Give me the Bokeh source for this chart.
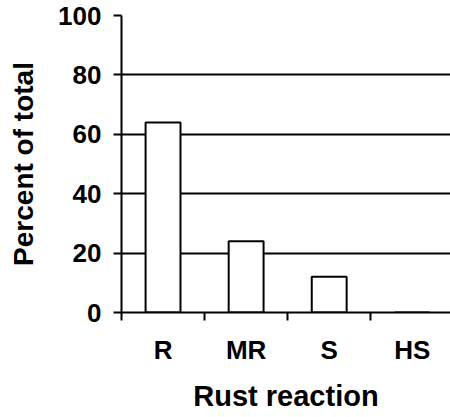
from bokeh.plotting import figure
from bokeh.models import Range1d, FixedTicker
from bokeh.embed import file_html
from bokeh.resources import INLINE

categories = ["R", "MR", "S", "HS"]
percent = [64, 24, 12, 0]
y_ticks = [0, 20, 40, 60, 80, 100]

x_centers = [i + 0.5 for i in range(len(categories))]
x_bounds = list(range(len(categories)))

FONT = "Liberation Sans"

p = figure(width=450, height=417, output_backend="svg", toolbar_location=None,
           x_range=Range1d(0, 3.96), y_range=Range1d(0, 100),
           min_border_left=121, min_border_right=0, min_border_top=15, min_border_bottom=105)
p.outline_line_color = None
p.background_fill_color = "white"
p.border_fill_color = "white"

p.vbar(x=x_centers, top=percent, width=0.42, fill_color="white",
       line_color="black", line_width=2)

# y axis
p.yaxis.ticker = FixedTicker(ticks=y_ticks)
p.yaxis.minor_tick_line_color = None
p.yaxis.major_tick_in = 0
p.yaxis.major_tick_out = 8
p.yaxis.major_tick_line_width = 2
p.yaxis.axis_line_width = 2
p.yaxis.major_label_standoff = 12
p.yaxis.major_label_text_font = FONT
p.yaxis.major_label_text_font_style = "bold"
p.yaxis.major_label_text_font_size = "26px"
p.yaxis.major_label_text_color = "black"
p.yaxis.axis_label = "Percent of total"
p.yaxis.axis_label_text_font = FONT
p.yaxis.axis_label_text_font_style = "bold"
p.yaxis.axis_label_text_font_size = "28px"
p.yaxis.axis_label_text_color = "black"
p.yaxis.axis_label_standoff = 16

# x axis
p.xaxis.ticker = FixedTicker(ticks=x_centers, minor_ticks=x_bounds)
p.xaxis.major_label_overrides = {c: lab for c, lab in zip(x_centers, categories)}
p.xaxis.major_tick_line_color = None
p.xaxis.major_tick_in = 0
p.xaxis.major_tick_out = 0
p.xaxis.minor_tick_in = 0
p.xaxis.minor_tick_out = 8
p.xaxis.minor_tick_line_width = 2
p.xaxis.minor_tick_line_color = "black"
p.xaxis.axis_line_width = 2
p.xaxis.major_label_standoff = 14
p.xaxis.major_label_text_font = FONT
p.xaxis.major_label_text_font_style = "bold"
p.xaxis.major_label_text_font_size = "26px"
p.xaxis.major_label_text_color = "black"
p.xaxis.axis_label = "Rust reaction"
p.xaxis.axis_label_text_font = FONT
p.xaxis.axis_label_text_font_style = "bold"
p.xaxis.axis_label_text_font_size = "29px"
p.xaxis.axis_label_text_color = "black"
p.xaxis.axis_label_standoff = 12

p.xgrid.grid_line_color = None
p.ygrid.ticker = FixedTicker(ticks=y_ticks)
p.ygrid.grid_line_color = "black"
p.ygrid.grid_line_width = 2

p.renderers.reverse()

open("out.html", "w").write(file_html(p, INLINE))
